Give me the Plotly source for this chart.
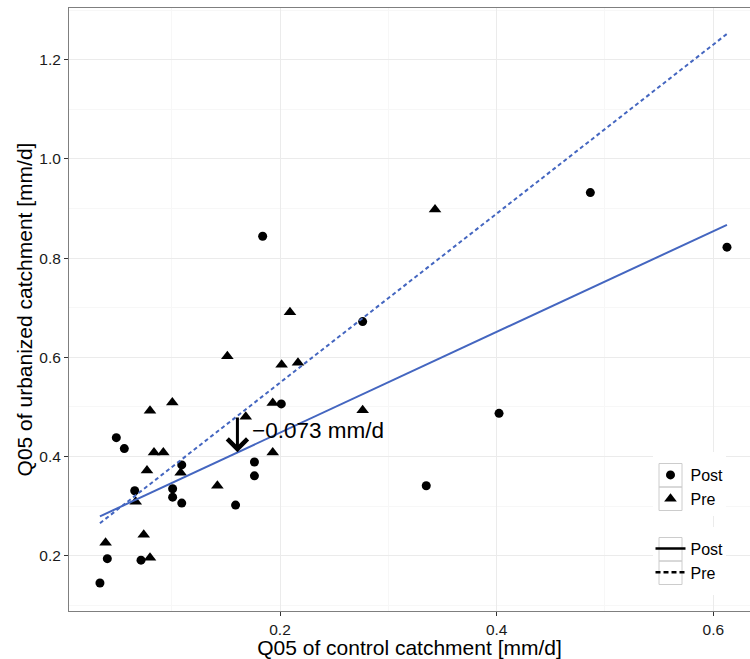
import plotly.graph_objects as go
import numpy as np

# Q05 low-flow quantiles [mm/d]: control vs. urbanized catchment
post_control = [0.0338, 0.0406, 0.0489, 0.0563, 0.0659, 0.0717, 0.1009, 0.1009,
                0.1093, 0.1093, 0.1590, 0.1764, 0.1764, 0.2012, 0.1840, 0.2763,
                0.4865, 0.6126, 0.4022, 0.3350]
post_urban = [0.145, 0.194, 0.438, 0.416, 0.331, 0.191, 0.335, 0.318,
              0.383, 0.306, 0.302, 0.389, 0.361, 0.506, 0.844, 0.672,
              0.932, 0.822, 0.487, 0.341]

pre_control = [0.0390, 0.0742, 0.0800, 0.0668, 0.0772, 0.0800, 0.0837, 0.0923,
               0.1006, 0.1083, 0.1422, 0.1514, 0.1684, 0.1933, 0.1933, 0.2015,
               0.2166, 0.2092, 0.2763, 0.3431]
pre_urban = [0.226, 0.242, 0.196, 0.309, 0.372, 0.492, 0.408, 0.408,
             0.509, 0.367, 0.341, 0.602, 0.480, 0.408, 0.508, 0.585,
             0.589, 0.691, 0.493, 0.898]

# linear fits (intercept, slope) drawn over the full range of the control data
fit_post = (0.245, 1.0154)
fit_pre = (0.2079, 1.7044)

# shift between the two fits, marked at one control value
arrow_x = 0.1607
shift_value = -0.073

x_all = post_control + pre_control
fit_x = np.array([min(x_all), max(x_all)])

BLUE = "#4466C0"
FONT = "Liberation Sans, Arial, Helvetica, sans-serif"

fig = go.Figure()

fig.add_trace(go.Scatter(
    x=post_control, y=post_urban, mode="markers", name="Post",
    marker=dict(symbol="circle", size=9, color="black"),
    legend="legend", showlegend=True))
fig.add_trace(go.Scatter(
    x=pre_control, y=pre_urban, mode="markers", name="Pre",
    marker=dict(symbol="triangle-up", size=11, color="black"),
    legend="legend", showlegend=True))

fig.add_trace(go.Scatter(
    x=fit_x, y=fit_post[0] + fit_post[1] * fit_x, mode="lines",
    line=dict(color=BLUE, width=2), showlegend=False, hoverinfo="skip"))
fig.add_trace(go.Scatter(
    x=fit_x, y=fit_pre[0] + fit_pre[1] * fit_x, mode="lines",
    line=dict(color=BLUE, width=2, dash="4px,3px"), showlegend=False, hoverinfo="skip"))

# legend entries for the line types
fig.add_trace(go.Scatter(x=[None], y=[None], mode="lines", name="Post",
                         line=dict(color="black", width=2.5), legend="legend2"))
fig.add_trace(go.Scatter(x=[None], y=[None], mode="lines", name="Pre",
                         line=dict(color="black", width=2.5, dash="5px,3px"), legend="legend2"))

arrow_top = fit_pre[0] + fit_pre[1] * arrow_x
arrow_tip = arrow_top + shift_value
fig.add_annotation(x=arrow_x, y=arrow_tip, ax=arrow_x, ay=arrow_top,
                   xref="x", yref="y", axref="x", ayref="y",
                   text="", showarrow=True, arrowhead=4, arrowsize=1.3,
                   arrowwidth=3, arrowcolor="black", standoff=0, startstandoff=0)
fig.add_annotation(x=arrow_x, y=(arrow_top + arrow_tip) / 2,
                   xref="x", yref="y", xanchor="left", yanchor="middle",
                   xshift=13, yshift=4, showarrow=False,
                   text=f"\u2212{abs(shift_value):.3f} mm/d",
                   font=dict(family=FONT, size=22.5, color="black"))

axis_common = dict(
    showline=True, linecolor="#7f7f7f", linewidth=1,
    ticks="outside", ticklen=4, tickwidth=1, tickcolor="#333333",
    showgrid=True, gridcolor="#EBEBEB", gridwidth=1,
    zeroline=False,
    tickfont=dict(family=FONT, size=15.5, color="#1a1a1a"),
)

fig.update_xaxes(
    range=[0.00523, 0.63386], tick0=0, dtick=0.2, tickformat=".1f",
    mirror=True,
    minor=dict(tick0=0, dtick=0.1, showgrid=True, gridcolor="#F7F7F7", gridwidth=1, ticks=""),
    title=dict(text="Q05 of control catchment [mm/d]", standoff=0,
               font=dict(family=FONT, size=21, color="black")),
    **axis_common)
fig.update_yaxes(
    range=[0.0885, 1.3042], tick0=0, dtick=0.2, tickformat=".1f",
    minor=dict(tick0=0, dtick=0.1, showgrid=True, gridcolor="#F7F7F7", gridwidth=1, ticks=""),
    title=dict(text="Q05 of urbanized catchment [mm/d]", standoff=0,
               font=dict(family=FONT, size=21, color="black")),
    **axis_common)

# legend panels: white backgrounds and grey key boxes (paper coordinates)
def px_x(p):
    return (p - 69) / 681

def px_y(p):
    return (611 - p) / 603

panel_shapes = []
for top, bottom in [(452, 516), (527, 595)]:
    panel_shapes.append(dict(type="rect", xref="paper", yref="paper", layer="above",
                             x0=px_x(653), x1=px_x(726), y0=px_y(bottom), y1=px_y(top),
                             fillcolor="white", line=dict(width=0)))
for top in [463.5, 487, 537.5, 561]:
    panel_shapes.append(dict(type="rect", xref="paper", yref="paper", layer="above",
                             x0=px_x(659), x1=px_x(682), y0=px_y(top + 23.5), y1=px_y(top),
                             fillcolor="rgba(0,0,0,0)", line=dict(color="#CCCCCC", width=1)))

legend_common = dict(bgcolor="rgba(0,0,0,0)", borderwidth=0, xanchor="left", yanchor="top",
                     font=dict(family=FONT, size=16, color="black"),
                     itemwidth=30, tracegroupgap=0, title=dict(text=""))

fig.update_layout(
    width=750, height=659,
    margin=dict(l=69, r=0, t=8, b=48),
    paper_bgcolor="white", plot_bgcolor="white",
    shapes=panel_shapes,
    legend=dict(x=px_x(650.5), y=px_y(458), **legend_common),
    legend2=dict(x=px_x(650.5), y=px_y(531.6), **legend_common),
)

fig.write_html("out.html")
